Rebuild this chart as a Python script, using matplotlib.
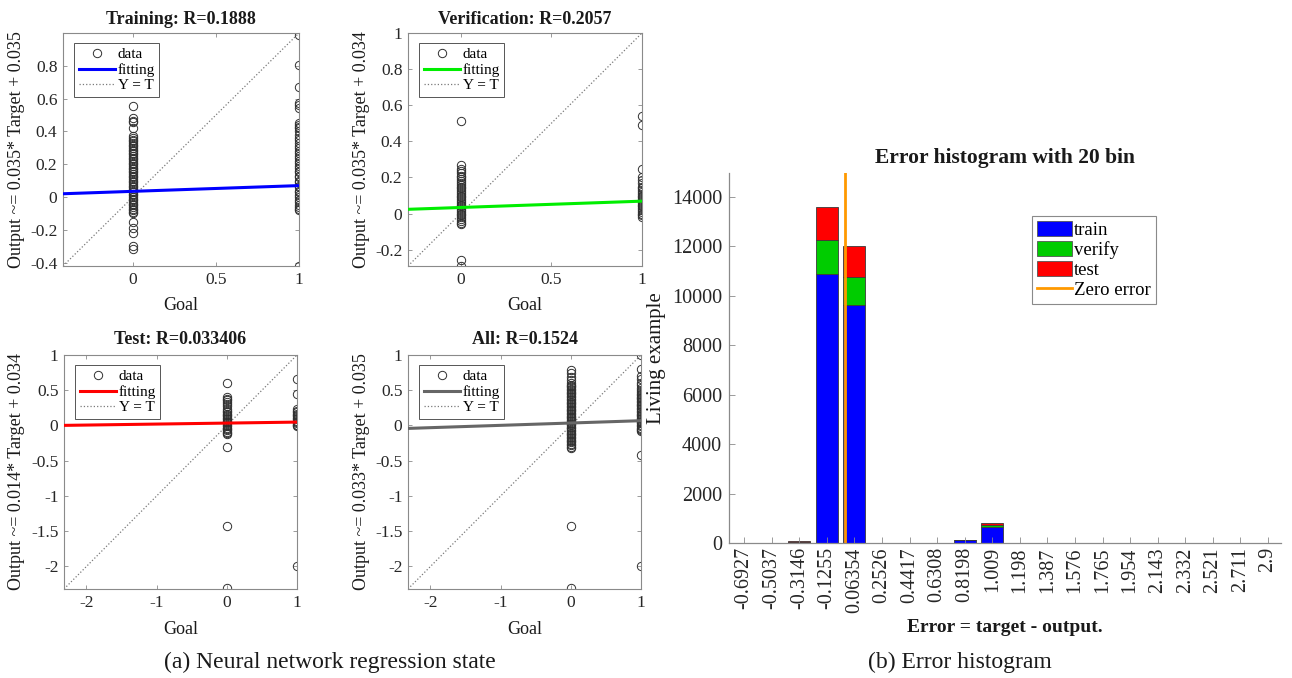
import matplotlib
matplotlib.use('Agg')
import matplotlib.pyplot as plt
from matplotlib.patches import Patch
from matplotlib.lines import Line2D
from matplotlib.ticker import FuncFormatter

plt.rcParams['font.family'] = ['Liberation Serif', 'DejaVu Serif']
plt.rcParams['axes.unicode_minus'] = False

# ---------------- data: regression panels ----------------
titles = ["Training: R=0.1888", "Verification: R=0.2057", "Test: R=0.033406", "All: R=0.1524"]
ylabels = ["Output ~= 0.035* Target + 0.035", "Output ~= 0.035* Target + 0.034",
           "Output ~= 0.014* Target + 0.034", "Output ~= 0.033* Target + 0.035"]
slopes = [0.035, 0.035, 0.014, 0.033]
intercepts = [0.035, 0.034, 0.034, 0.035]
fit_colors = ['#0000ff', '#00ee00', '#ff0000', '#666666']
axis_limits = [(-0.42, 1.0), (-0.29, 1.0), (-2.32, 1.0), (-2.32, 1.0)]
xticks_list = [[0, 0.5, 1], [0, 0.5, 1], [-2, -1, 0, 1], [-2, -1, 0, 1]]
yticks_list = [[-0.4, -0.2, 0, 0.2, 0.4, 0.6, 0.8], [-0.2, 0, 0.2, 0.4, 0.6, 0.8, 1],
               [-2, -1.5, -1, -0.5, 0, 0.5, 1], [-2, -1.5, -1, -0.5, 0, 0.5, 1]]

train_t0 = [0.555, 0.48, 0.465, 0.455, 0.42, 0.37, 0.36, 0.35, 0.34, 0.33, 0.32, 0.31, 0.30, 0.29,
            0.28, 0.27, 0.26, 0.25, 0.24, 0.23, 0.22, 0.21, 0.20, 0.19, 0.18, 0.17, 0.16, 0.15,
            0.14, 0.13, 0.12, 0.11, 0.10, 0.09, 0.08, 0.07, 0.06, 0.05, 0.04, 0.03, 0.02, 0.01,
            0.0, -0.01, -0.02, -0.03, -0.04, -0.05, -0.06, -0.07, -0.08, -0.09, -0.10, -0.15,
            -0.19, -0.22, -0.30, -0.315]
train_t1 = [0.99, 0.805, 0.67, 0.575, 0.56, 0.545, 0.45, 0.44, 0.43, 0.42, 0.40, 0.38, 0.36, 0.35,
            0.33, 0.31, 0.30, 0.28, 0.27, 0.25, 0.24, 0.22, 0.21, 0.19, 0.18, 0.16, 0.15, 0.13,
            0.12, 0.10, 0.09, 0.07, 0.06, 0.04, 0.03, 0.01, 0.0, -0.02, -0.03, -0.05, -0.06,
            -0.07, -0.08, -0.42]
val_t0 = [0.515, 0.268, 0.245, 0.237, 0.225, 0.21, 0.20, 0.19, 0.18, 0.17, 0.16, 0.15, 0.14, 0.13,
          0.12, 0.11, 0.10, 0.09, 0.08, 0.07, 0.06, 0.05, 0.04, 0.03, 0.02, 0.01, 0.0, -0.01,
          -0.02, -0.03, -0.04, -0.05, -0.06, -0.255, -0.29]
val_t1 = [0.54, 0.49, 0.245, 0.20, 0.185, 0.17, 0.15, 0.14, 0.13, 0.12, 0.11, 0.10, 0.09, 0.08,
          0.07, 0.06, 0.05, 0.04, 0.03, 0.02, 0.01, 0.0, -0.01, -0.02]
test_t0 = [0.60, 0.40, 0.38, 0.36, 0.34, 0.31, 0.27, 0.24, 0.21, 0.19, 0.17, 0.15, 0.13, 0.11,
           0.09, 0.07, 0.05, 0.03, 0.01, -0.01, -0.03, -0.05, -0.07, -0.09, -0.11, -0.12,
           -0.30, -1.43, -2.31]
test_t1 = [0.66, 0.45, 0.23, 0.21, 0.19, 0.17, 0.15, 0.13, 0.11, 0.09, 0.07, 0.05, 0.03, 0.01,
           0.0, -0.01, -1.99]
all_t0 = [0.79, 0.74, 0.69, 0.64, 0.60, 0.58, 0.56, 0.54, 0.52, 0.50, 0.48, 0.46, 0.44, 0.42,
          0.40, 0.38, 0.36, 0.34, 0.32, 0.30, 0.28, 0.26, 0.24, 0.22, 0.20, 0.18, 0.16, 0.14,
          0.12, 0.10, 0.08, 0.06, 0.04, 0.02, 0.0, -0.02, -0.04, -0.06, -0.08, -0.10, -0.12,
          -0.14, -0.16, -0.18, -0.20, -0.22, -0.24, -0.26, -0.28, -0.30, -0.32, -1.43, -2.31]
all_t1 = [1.0, 0.80, 0.70, 0.66, 0.60, 0.57, 0.53, 0.50, 0.47, 0.45, 0.43, 0.41, 0.39, 0.37,
          0.35, 0.33, 0.31, 0.29, 0.27, 0.25, 0.23, 0.21, 0.19, 0.17, 0.15, 0.13, 0.11, 0.09,
          0.07, 0.05, 0.03, 0.01, -0.01, -0.03, -0.05, -0.07, -0.08, -0.415, -1.99]
outputs_t0 = [train_t0, val_t0, test_t0, all_t0]
outputs_t1 = [train_t1, val_t1, test_t1, all_t1]

# ---------------- data: error histogram ----------------
bin_labels = ["-0.6927", "-0.5037", "-0.3146", "-0.1255", "0.06354", "0.2526", "0.4417", "0.6308",
              "0.8198", "1.009", "1.198", "1.387", "1.576", "1.765", "1.954", "2.143", "2.332",
              "2.521", "2.711", "2.9"]
train_counts = [2, 5, 50, 10860, 9620, 8, 3, 12, 120, 650, 0, 0, 0, 0, 0, 0, 0, 0, 0, 0]
verify_counts = [0, 1, 8, 1375, 1145, 1, 0, 2, 8, 65, 0, 0, 0, 0, 0, 0, 0, 0, 0, 0]
test_counts = [0, 1, 7, 1330, 1225, 1, 0, 1, 7, 90, 0, 0, 0, 0, 0, 0, 0, 0, 0, 0]

# ---------------- figure ----------------
W, H = 1292, 678
fig = plt.figure(figsize=(W / 100, H / 100), dpi=100)


def rect(l, t, r, b):
    return [l / W, 1 - b / H, (r - l) / W, (b - t) / H]


def fx(px):
    return px / W


def fy(py):
    return 1 - py / H


fmt = FuncFormatter(lambda v, p: f"{round(v, 6) + 0.0:g}")
spine_c = '#8a8a8a'
tick_c = '#262626'
MS = 6.0

boxes = [(63, 33, 299, 266), (408, 33, 642, 266), (64, 355, 297, 589), (408, 355, 641, 589)]
ylabel_x = [17, 362, 17, 362]
title_y = [19, 19, 340, 340]
xlabel_y = [305, 305, 629, 629]

for i in range(4):
    l, t, r, b = boxes[i]
    ax = fig.add_axes(rect(l, t, r, b))
    lo, hi = axis_limits[i]
    ax.plot([lo, hi], [lo, hi], ls=':', color='#7a7a7a', lw=0.9, zorder=1)
    ax.plot([0] * len(outputs_t0[i]), outputs_t0[i], 'o', mfc='none', mec='#303030',
            ms=MS, mew=0.7, zorder=2)
    ax.plot([1] * len(outputs_t1[i]), outputs_t1[i], 'o', mfc='none', mec='#303030',
            ms=MS, mew=0.7, zorder=2)
    ax.plot([lo, hi], [slopes[i] * lo + intercepts[i], slopes[i] * hi + intercepts[i]],
            color=fit_colors[i], lw=2.2, zorder=3)
    ax.set_xlim(lo, hi)
    ax.set_ylim(lo, hi)
    ax.set_xticks(xticks_list[i])
    ax.set_yticks(yticks_list[i])
    ax.xaxis.set_major_formatter(fmt)
    ax.yaxis.set_major_formatter(fmt)
    ax.tick_params(direction='in', length=3, width=0.6, color=spine_c, labelcolor=tick_c,
                   labelsize=12.5, top=True, right=True, pad=4)
    for s in ax.spines.values():
        s.set_color(spine_c)
        s.set_linewidth(0.8)
    ax.set_title(titles[i], fontsize=13, fontweight='bold', color='#1a1a1a',
                 y=(b - title_y[i]) / (b - t), pad=0, va='center')
    ax.set_ylabel(ylabels[i], fontsize=13, va='center', color='#1a1a1a')
    ax.yaxis.set_label_coords(fx(ylabel_x[i]), fy((t + b) / 2), transform=fig.transFigure)
    ax.set_xlabel("Goal", fontsize=13, va='center', color='#1a1a1a')
    ax.xaxis.set_label_coords(fx((l + r) / 2), fy(xlabel_y[i]), transform=fig.transFigure)
    handles = [Line2D([], [], ls='none', marker='o', mfc='none', mec='#303030', ms=MS, mew=0.7),
               Line2D([], [], color=fit_colors[i], lw=2.2),
               Line2D([], [], color='#7a7a7a', ls=':', lw=0.9)]
    leg = ax.legend(handles, ['data', 'fitting', 'Y = T'], loc='upper left',
                    bbox_to_anchor=(11 / (r - l), 1 - 10 / (b - t)), borderaxespad=0,
                    fontsize=11, handlelength=2.4, handletextpad=0.15, labelspacing=0.12,
                    borderpad=0.3, fancybox=False, framealpha=1, edgecolor='#555555')
    leg.get_frame().set_linewidth(0.7)

# ---------------- histogram ----------------
hl, ht, hr, hb = 729, 173, 1281, 543
axh = fig.add_axes(rect(hl, ht, hr, hb))
centers = [float(s) for s in bin_labels]
bw = (centers[-1] - centers[0]) / (len(centers) - 1)
bot2 = [a + b for a, b in zip(train_counts, verify_counts)]
axh.bar(centers, train_counts, width=0.8 * bw, color='#0000ff', edgecolor='#3a3a3a', lw=0.6)
axh.bar(centers, verify_counts, bottom=train_counts, width=0.8 * bw, color='#00cc00',
        edgecolor='#3a3a3a', lw=0.6)
axh.bar(centers, test_counts, bottom=bot2, width=0.8 * bw, color='#ff0000',
        edgecolor='#3a3a3a', lw=0.6)
axh.axvline(0, color='#ff9900', lw=2)
axh.set_xlim(centers[0] - 0.55 * bw, centers[-1] + 0.47 * bw)
axh.set_ylim(0, 14950)
axh.set_xticks(centers)
axh.set_xticklabels(bin_labels, rotation=90)
axh.set_yticks(range(0, 14001, 2000))
axh.tick_params(direction='in', length=4, width=0.6, color=spine_c, labelcolor=tick_c,
                labelsize=14.5, pad=3)
axh.tick_params(axis='y', pad=5)
for side in ['top', 'right']:
    axh.spines[side].set_visible(False)
for side in ['left', 'bottom']:
    axh.spines[side].set_color(spine_c)
    axh.spines[side].set_linewidth(0.9)
axh.set_title("Error histogram with 20 bin", fontsize=15.5, fontweight='bold', color='#1a1a1a',
              y=(hb - 158) / (hb - ht), pad=0, va='center')
axh.set_ylabel("Living example", fontsize=15, va='center', color='#1a1a1a')
axh.yaxis.set_label_coords(fx(656), fy((ht + hb) / 2), transform=fig.transFigure)
axh.set_xlabel("Error = target - output.", fontsize=14, fontweight='bold', va='center',
               color='#1a1a1a')
axh.xaxis.set_label_coords(fx((hl + hr) / 2), fy(628), transform=fig.transFigure)
hh = [Patch(facecolor='#0000ff', edgecolor='#555555', lw=0.6),
      Patch(facecolor='#00cc00', edgecolor='#555555', lw=0.6),
      Patch(facecolor='#ff0000', edgecolor='#555555', lw=0.6),
      Line2D([], [], color='#ff9900', lw=2)]
legh = axh.legend(hh, ['train', 'verify', 'test', 'Zero error'], loc='upper left',
                  bbox_to_anchor=((1032 - hl) / (hr - hl), 1 - (216 - ht) / (hb - ht)),
                  borderaxespad=0, fontsize=13.5, handlelength=1.9, handleheight=0.85,
                  handletextpad=0.1, labelspacing=0.12, borderpad=0.25, fancybox=False,
                  framealpha=1, edgecolor='#8a8a8a')
legh.get_frame().set_linewidth(0.8)

# ---------------- captions ----------------
fig.text(fx(330), fy(662), "(a) Neural network regression state", fontsize=17,
         ha='center', va='center', color='#1a1a1a')
fig.text(fx(960), fy(662), "(b) Error histogram", fontsize=17,
         ha='center', va='center', color='#1a1a1a')

fig.savefig('out.png', dpi=100)
